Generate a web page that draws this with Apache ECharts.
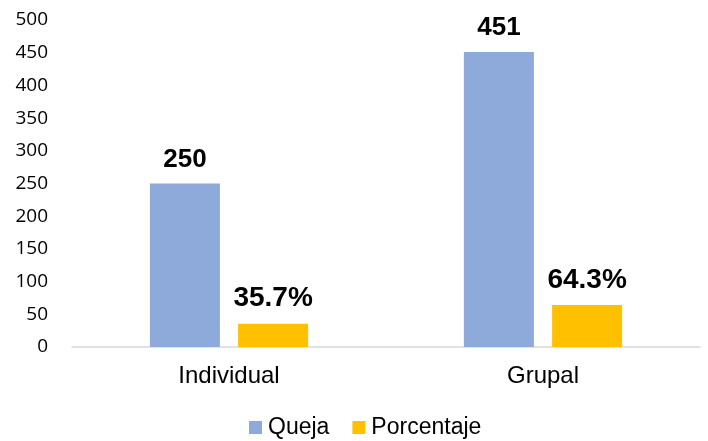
<!DOCTYPE html>
<html>
<head>
<meta charset="utf-8">
<script src="https://cdn.jsdelivr.net/npm/echarts@6/dist/echarts.min.js"></script>
<style>
  html, body { margin: 0; padding: 0; background: #fff; }
  #chart { width: 708px; height: 441px; }
</style>
</head>
<body>
<div id="chart"></div>
<script>
const categories = ['Individual', 'Grupal'];
const quejaValues = [250, 451];
const porcentajeValues = [35.7, 64.3];
const yTicks = { min: 0, max: 500, interval: 50 };

const font = 'Liberation Sans, Arial, sans-serif';

const chart = echarts.init(document.getElementById('chart'));

const option = {
  animation: false,
  grid: { left: 72, right: 8, top: 20, bottom: 94 },
  legend: {
    top: 411,
    left: 244,
    icon: 'rect',
    itemWidth: 13,
    itemHeight: 13,
    itemGap: 23,
    textStyle: { fontFamily: font, fontSize: 23, color: '#000', padding: [0, 0, 0, 1] },
    data: ['Queja', 'Porcentaje']
  },
  xAxis: {
    type: 'category',
    data: categories,
    axisLine: { lineStyle: { color: '#d9d9d9', width: 1.5 } },
    axisTick: { show: false },
    axisLabel: { fontFamily: font, fontSize: 24, color: '#000', margin: 17 }
  },
  yAxis: {
    type: 'value',
    min: yTicks.min,
    max: yTicks.max,
    interval: yTicks.interval,
    axisLine: { show: false },
    axisTick: { show: false },
    splitLine: { show: false },
    axisLabel: { fontFamily: 'Open Sans, sans-serif', fontSize: 19, color: '#000', margin: 24 }
  },
  series: [
    {
      name: 'Queja',
      type: 'bar',
      data: quejaValues,
      barWidth: 70,
      barGap: '26%',
      itemStyle: { color: '#8eaadb' },
      label: {
        show: true,
        position: 'top',
        distance: 11,
        fontFamily: font,
        fontSize: 26,
        fontWeight: 'bold',
        color: '#000'
      }
    },
    {
      name: 'Porcentaje',
      type: 'bar',
      data: porcentajeValues,
      barWidth: 70,
      itemStyle: { color: '#ffc000' },
      label: {
        show: true,
        position: 'top',
        distance: 11,
        fontFamily: font,
        fontSize: 28,
        fontWeight: 'bold',
        color: '#000',
        formatter: (p) => p.value.toFixed(1) + '%'
      }
    }
  ]
};

chart.setOption(option);
</script>
</body>
</html>
